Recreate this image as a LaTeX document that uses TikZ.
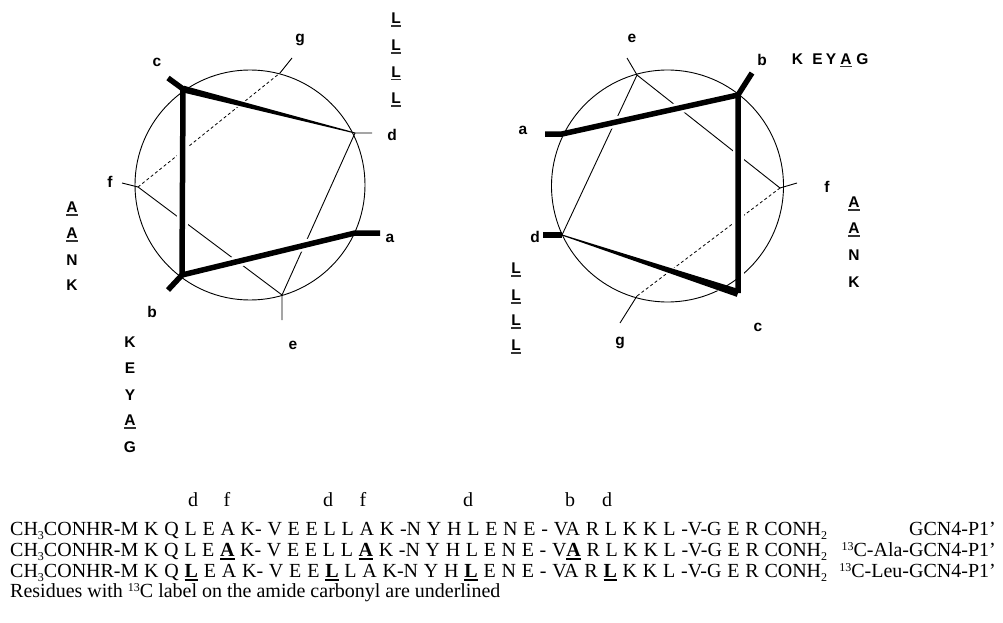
\documentclass[tikz,border=0pt]{standalone}
\usepackage{fontspec}
\setmainfont{Liberation Serif}
\newfontfamily\hv{Liberation Sans}
\usetikzlibrary{calc}
\newsavebox\ulbox
\newcommand{\uls}[1]{\sbox\ulbox{#1}\rlap{\color{black!80}\rule[-3pt]{\wd\ulbox}{1.5pt}}\usebox\ulbox}
\newcommand{\ulr}[1]{\sbox\ulbox{\textbf{#1}}\rlap{\raisebox{-3.2pt}[0pt][0pt]{\rule{\wd\ulbox}{1.5pt}}}\usebox\ulbox}
\newcommand{\sbs}[1]{\raisebox{-4pt}[0pt][0pt]{\fontsize{12}{12}\selectfont #1}}
\newcommand{\sps}[1]{\raisebox{6pt}[0pt][0pt]{\fontsize{12}{12}\selectfont #1}}
\begin{document}
\begin{tikzpicture}[x=1pt,y=-1pt,
  wheel/.style={draw,circle,line width=0.9pt,inner sep=0pt},
  thinl/.style={line width=0.9pt},
  dashl/.style={line width=0.8pt,dash pattern=on 3pt off 2.5pt},
  thk/.style={line width=5.5pt,line join=miter},
  halo/.style={line width=11pt,white,shorten <=15pt,shorten >=15pt},
  lab/.style={font=\hv\bfseries\fontsize{15.5}{18}\selectfont,inner sep=0pt},
  res/.style={lab,anchor=base},
  seqtxt/.style={font=\fontsize{20}{21}\selectfont,inner sep=0pt,anchor=base west},
  heptad/.style={font=\fontsize{20}{21}\selectfont,inner sep=0pt,anchor=base},
  pepname/.style={font=\fontsize{20}{21}\selectfont,inner sep=0pt,anchor=base east}]
\useasboundingbox (0,0) rectangle (1003,623);

% ---------- left wheel ----------
\node[wheel,minimum size=230pt] (LW) at (250,185) {};
\coordinate (La) at (355,233); \coordinate (Las) at (380,233);
\coordinate (Lb) at (182,275); \coordinate (Lbs) at (168,290);
\coordinate (Lc) at (183,89);  \coordinate (Lcs) at (168,78);
\coordinate (Ld) at (355,133); \coordinate (Lds) at (372,133);
\coordinate (Le) at (282,295); \coordinate (Les) at (282,320);
\coordinate (Lf) at (138,187); \coordinate (Lfs) at (122,183);
\coordinate (Lg) at (280,73);  \coordinate (Lgs) at (292,58);
\draw[thinl] (Ld) -- (Le) -- (Lf);
\draw[dashl] (Lf) -- (Lg);
\draw[thinl] (Ld) -- (Lds) (Le) -- (Les) (Lf) -- (Lfs) (Lg) -- (Lgs);
\draw[halo] (La) -- (Lb);
\draw[halo] (Lb) -- (Lc);
\draw[halo,line width=8pt] (Lc) -- (Ld);
\draw[thk] (Las) -- (La) -- (Lb) -- (Lc);
\draw[thk] (Lb) -- (Lbs);
\draw[thk] (Lc) -- (Lcs);
\fill ($(Lc)!3.4pt!90:(Ld)$) -- ($(Lc)!3.4pt!-90:(Ld)$) -- ($(Ld)!0.5pt!90:(Lc)$) -- ($(Ld)!0.5pt!-90:(Lc)$) -- cycle;
\node[lab] (tLa) at (390,238) {a};
\node[lab] (tLb) at (152,312) {b};
\node[lab] (tLc) at (157,62) {c};
\node[lab] (tLd) at (392,135) {d};
\node[lab] (tLe) at (293,345) {e};
\node[lab] (tLf) at (110,182) {f};
\node[lab] (tLg) at (300,40) {g};
% residue columns
\node[res] (l1) at (396,24) {\uls{L}};
\node[res] (l2) at (396,51) {\uls{L}};
\node[res] (l3) at (396,77.5) {\uls{L}};
\node[res] (l4) at (396,103.5) {\uls{L}};
\node[res] (m1) at (72,212.5) {\uls{A}};
\node[res] (m2) at (72,238.5) {\uls{A}};
\node[res] (m3) at (72,265.5) {N};
\node[res] (m4) at (72,290.5) {K};
\node[res] (n1) at (130,347.5) {K};
\node[res] (n2) at (130,373.5) {E};
\node[res] (n3) at (130,400.5) {Y};
\node[res] (n4) at (130,425.5) {\uls{A}};
\node[res] (n5) at (130,452.5) {G};

% ---------- right wheel ----------
\node[wheel,minimum size=232pt] (RW) at (667.5,186) {};
\coordinate (Ra) at (562,134); \coordinate (Ras) at (545,134);
\coordinate (Rb) at (738,95);  \coordinate (Rbs) at (752,73);
\coordinate (Rc) at (738,293);
\coordinate (Rd) at (562,235); \coordinate (Rds) at (543,235);
\coordinate (Re) at (637,75);  \coordinate (Res) at (627,58);
\coordinate (Rf) at (780,188); \coordinate (Rfs) at (797,183);
\coordinate (Rg) at (637,296); \coordinate (Rgs) at (620,323);
\draw[thinl] (Rd) -- (Re) -- (Rf);
\draw[dashl] (Rf) -- (Rg);
\draw[thinl] (Re) -- (Res) (Rf) -- (Rfs) (Rg) -- (Rgs);
\draw[halo] (Ra) -- (Rb);
\draw[halo] (Rb) -- (Rc);
\draw[halo,line width=8pt] (Rd) -- (Rc);
\draw[thk] (Ras) -- (Ra) -- (Rb) -- (Rc);
\draw[thk] (Rb) -- (Rbs);
\draw[thk] (Rd) -- (Rds);
\fill ($(Rc)!4pt!90:(Rd)$) -- ($(Rc)!4pt!-90:(Rd)$) -- ($(Rd)!0.5pt!90:(Rc)$) -- ($(Rd)!0.5pt!-90:(Rc)$) -- cycle;
\node[lab] (tRa) at (523,130) {a};
\node[lab] (tRb) at (762,60) {b};
\node[lab] (tRc) at (758,327) {c};
\node[lab] (tRd) at (535,237) {d};
\node[lab] (tRe) at (632,38) {e};
\node[lab] (tRf) at (827,187) {f};
\node[lab] (tRg) at (620,343) {g};
\node[res] (p1) at (797.5,64.5) {K};
\node[res] (p2) at (817.5,64.5) {E};
\node[res] (p3) at (831,64.5) {Y};
\node[res] (p4) at (846,64.5) {\uls{A}};
\node[res] (p5) at (862.5,64.5) {G};
\node[res] (q1) at (854,207.5) {\uls{A}};
\node[res] (q2) at (854,233.5) {\uls{A}};
\node[res] (q3) at (854,260.5) {N};
\node[res] (q4) at (854,287.5) {K};
\node[res] (r1) at (516,273.5) {\uls{L}};
\node[res] (r2) at (516,300.5) {\uls{L}};
\node[res] (r3) at (516,325.5) {\uls{L}};
\node[res] (r4) at (516,350.5) {\uls{L}};

% ---------- sequences ----------
\node[heptad] (h1) at (193,506) {d};
\node[heptad] (h2) at (227,506) {f};
\node[heptad] (h3) at (328,506) {d};
\node[heptad] (h4) at (363,506) {f};
\node[heptad] (h5) at (468,506) {d};
\node[heptad] (h6) at (570,506) {b};
\node[heptad] (h7) at (607,506) {d};
\node[seqtxt] (s1) at (10,535.5) {\makebox[817pt][s]{CH\sbs{3}CONHR-M K Q L E A K- V E E L L A K -N Y H L E N E - VA R L K K L -V-G E R CONH\sbs{2}}};
\node[seqtxt] (s2) at (10,556.5) {\makebox[817pt][s]{CH\sbs{3}CONHR-M K Q L E \ulr{A} K- V E E L L \ulr{A} K -N Y H L E N E - V\ulr{A} R L K K L -V-G E R CONH\sbs{2}}};
\node[seqtxt] (s3) at (10,577.5) {\makebox[817pt][s]{CH\sbs{3}CONHR-M K Q \ulr{L} E A K- V E E \ulr{L} L A K-N Y H \ulr{L} E N E - VA R \ulr{L} K K L -V-G E R CONH\sbs{2}}};
\node[pepname] (g1) at (996,535.5) {GCN4-P1’};
\node[pepname] (g2) at (996,556.5) {\sps{13}C-Ala-GCN4-P1’};
\node[pepname] (g3) at (996,577.5) {\sps{13}C-Leu-GCN4-P1’};
\node[seqtxt] (foot) at (10,597.5) {Residues with \sps{13}C label on the amide carbonyl are underlined};
\end{tikzpicture}
\end{document}
